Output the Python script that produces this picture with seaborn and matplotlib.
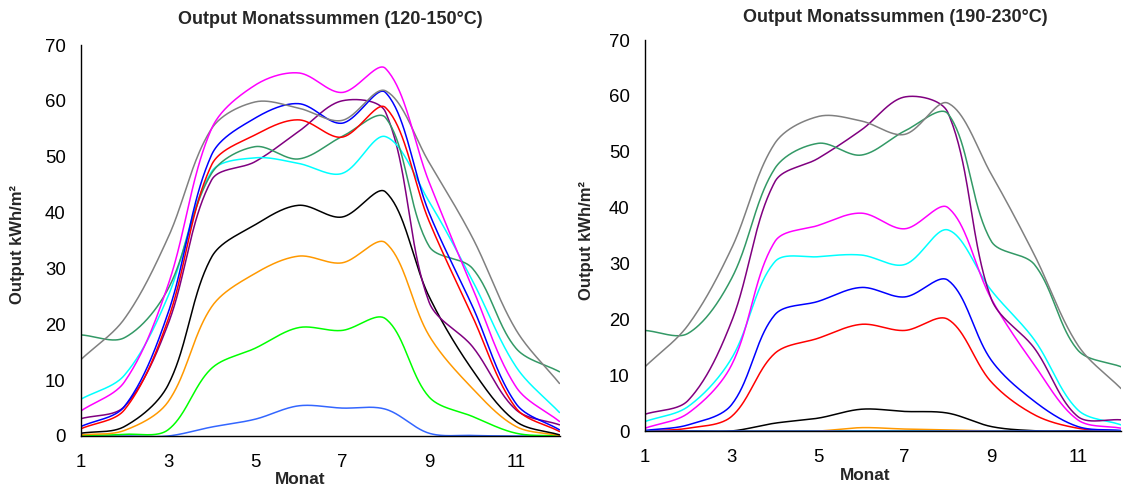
import numpy as np
import pandas as pd
import matplotlib
matplotlib.use("Agg")
import matplotlib.pyplot as plt
import seaborn as sns

# Monate 1..12
monate = list(range(1, 13))

# Output Monatssummen (120-150°C), kWh/m²
grau_l = [13.7, 21.0, 35.5, 55.0, 59.8, 58.7, 56.5, 61.8, 49.0, 35.5, 19.0, 9.4]
magenta_l = [4.5, 9.7, 27.0, 55.0, 62.8, 65.0, 61.5, 65.8, 45.5, 26.5, 8.8, 2.6]
blau_l = [1.7, 5.3, 22.0, 50.3, 56.9, 59.5, 56.0, 61.5, 40.0, 23.2, 5.8, 1.1]
rot_l = [1.3, 4.7, 20.8, 48.5, 53.9, 56.6, 53.5, 58.8, 38.5, 21.4, 5.0, 0.8]
dunkelgruen_l = [18.1, 17.6, 26.3, 47.0, 51.8, 49.6, 53.6, 57.0, 34.0, 30.0, 15.7, 11.5]
cyan_l = [6.6, 10.9, 25.0, 47.3, 49.8, 48.8, 47.0, 53.6, 42.0, 27.8, 12.4, 4.2]
lila_l = [3.1, 5.3, 20.0, 45.8, 49.1, 54.5, 60.0, 58.0, 24.0, 16.0, 4.7, 2.0]
schwarz_l = [0.5, 1.7, 9.1, 32.0, 37.8, 41.3, 39.2, 43.7, 25.0, 11.8, 2.6, 0.2]
orange_l = [0.2, 1.0, 6.1, 23.1, 29.1, 32.2, 31.0, 34.6, 18.0, 8.5, 1.7, 0.1]
hellgruen_l = [0.1, 0.3, 1.1, 12.1, 15.7, 19.4, 18.9, 21.0, 7.0, 3.5, 0.5, 0.0]
hellblau_l = [0.0, 0.0, 0.0, 1.6, 3.0, 5.4, 5.0, 4.8, 0.5, 0.1, 0.0, 0.0]

# Output Monatssummen (190-230°C), kWh/m²
grau_r = [11.5, 19.0, 32.7, 51.5, 56.3, 55.5, 53.1, 58.7, 46.0, 31.5, 15.4, 7.6]
dunkelgruen_r = [18.0, 17.5, 27.3, 47.0, 51.5, 49.4, 53.7, 56.8, 34.0, 29.8, 14.5, 11.5]
lila_r = [3.0, 5.5, 19.6, 44.6, 48.8, 53.9, 59.8, 57.0, 23.7, 14.8, 2.6, 2.0]
magenta_r = [0.5, 3.2, 11.8, 33.9, 36.8, 39.0, 36.2, 40.0, 23.7, 11.8, 2.0, 0.5]
cyan_r = [1.7, 4.4, 13.0, 30.3, 31.2, 31.5, 29.8, 36.0, 25.2, 16.3, 3.8, 1.1]
blau_r = [0.1, 1.1, 4.7, 20.8, 23.2, 25.7, 24.0, 27.0, 12.7, 5.3, 0.8, 0.1]
rot_r = [0.0, 0.5, 2.6, 13.9, 16.6, 19.1, 18.0, 20.0, 8.8, 2.9, 0.5, 0.0]
schwarz_r = [0.0, 0.0, 0.0, 1.4, 2.3, 3.9, 3.5, 3.2, 0.8, 0.05, 0.0, 0.0]
orange_r = [0.0, 0.0, 0.0, 0.0, 0.0, 0.6, 0.35, 0.2, 0.0, 0.0, 0.0, 0.0]
hellgruen_r = [0.0] * 12
hellblau_r = [0.0] * 12

farben = {
    "grau": "#808080", "magenta": "#FF00FF", "blau": "#0000FF", "rot": "#FF0000",
    "dunkelgruen": "#339966", "cyan": "#00FFFF", "lila": "#800080", "schwarz": "#000000",
    "orange": "#FF9900", "hellgruen": "#00FF00", "hellblau": "#3366FF",
}


def glatt(x, y, n=40, sx=43.5, sy=5.586):
    # Excel-artige Glättung: Bezier-Segmente, Tangenten nach Abstand gewichtet
    p = np.column_stack([x, y]).astype(float)
    skala = np.array([sx, sy])
    xs, ys = [], []
    t = np.linspace(0, 1, n)[:, None]
    for i in range(len(p) - 1):
        p0 = p[i - 1] if i > 0 else p[i]
        p1, p2 = p[i], p[i + 1]
        p3 = p[i + 2] if i + 2 < len(p) else p[i + 1]
        d01 = np.linalg.norm((p1 - p0) * skala)
        d12 = np.linalg.norm((p2 - p1) * skala)
        d23 = np.linalg.norm((p3 - p2) * skala)
        c1 = p1 + (p2 - p0) * d12 / (3 * (d01 + d12))
        c2 = p2 - (p3 - p1) * d12 / (3 * (d12 + d23))
        b = (1 - t) ** 3 * p1 + 3 * (1 - t) ** 2 * t * c1 + 3 * (1 - t) * t ** 2 * c2 + t ** 3 * p2
        xs.append(b[:, 0])
        ys.append(b[:, 1])
    return np.concatenate(xs), np.concatenate(ys)


def zeichne(ax, reihen):
    for name, werte in reihen:
        gx, gy = glatt(monate, werte)
        df = pd.DataFrame({"Monat": gx, "Output": gy})
        sns.lineplot(data=df, x="Monat", y="Output", ax=ax, color=farben[name],
                     lw=1.1, sort=False, estimator=None)
    ax.set_xlim(1, 12)
    ax.set_ylim(0, 70)
    ax.set_xticks([1, 3, 5, 7, 9, 11])
    ax.set_yticks(range(0, 71, 10))
    ax.set_xlabel("")
    ax.set_ylabel("")
    for s in ["top", "right"]:
        ax.spines[s].set_visible(False)
    for s in ["left", "bottom"]:
        ax.spines[s].set_color("black")
        ax.spines[s].set_linewidth(1.0)
    ax.tick_params(direction="out", length=5, width=1, color="black",
                   labelsize=13.4, labelcolor="black")
    ax.tick_params(axis="x", pad=8)
    ax.tick_params(axis="y", pad=6)


sns.set_style("white")
plt.rcParams["font.family"] = ["Liberation Sans", "DejaVu Sans"]

fig = plt.figure(figsize=(11.23, 4.95), dpi=100)
ax1 = fig.add_axes([81 / 1123, 59 / 495, 478.5 / 1123, 391 / 495])
ax2 = fig.add_axes([645 / 1123, 64 / 495, 476 / 1123, 391 / 495])

zeichne(ax1, [
    ("hellblau", hellblau_l), ("hellgruen", hellgruen_l), ("orange", orange_l),
    ("schwarz", schwarz_l), ("lila", lila_l), ("cyan", cyan_l),
    ("dunkelgruen", dunkelgruen_l), ("rot", rot_l), ("blau", blau_l),
    ("grau", grau_l), ("magenta", magenta_l),
])

zeichne(ax2, [
    ("hellgruen", hellgruen_r), ("orange", orange_r), ("schwarz", schwarz_r),
    ("rot", rot_r), ("blau", blau_r), ("cyan", cyan_r), ("magenta", magenta_r),
    ("lila", lila_r), ("dunkelgruen", dunkelgruen_r), ("grau", grau_r),
    ("hellblau", hellblau_r),
])

# Titel und Achsenbeschriftungen
fig.text(330 / 1123, 1 - 20 / 495, "Output Monatssummen (120-150°C)",
         ha="center", va="center", fontsize=13, fontweight="bold")
fig.text(895 / 1123, 1 - 17 / 495, "Output Monatssummen (190-230°C)",
         ha="center", va="center", fontsize=13, fontweight="bold")
fig.text(300 / 1123, 1 - 479 / 495, "Monat", ha="center", va="center",
         fontsize=12.4, fontweight="bold")
fig.text(865 / 1123, 1 - 475 / 495, "Monat", ha="center", va="center",
         fontsize=12.4, fontweight="bold")
fig.text(18 / 1123, 1 - 245 / 495, "Output kWh/m²", ha="center", va="center",
         rotation=90, fontsize=12, fontweight="bold")
fig.text(587 / 1123, 1 - 240 / 495, "Output kWh/m²", ha="center", va="center",
         rotation=90, fontsize=12, fontweight="bold")

fig.savefig("out.png", dpi=100)
